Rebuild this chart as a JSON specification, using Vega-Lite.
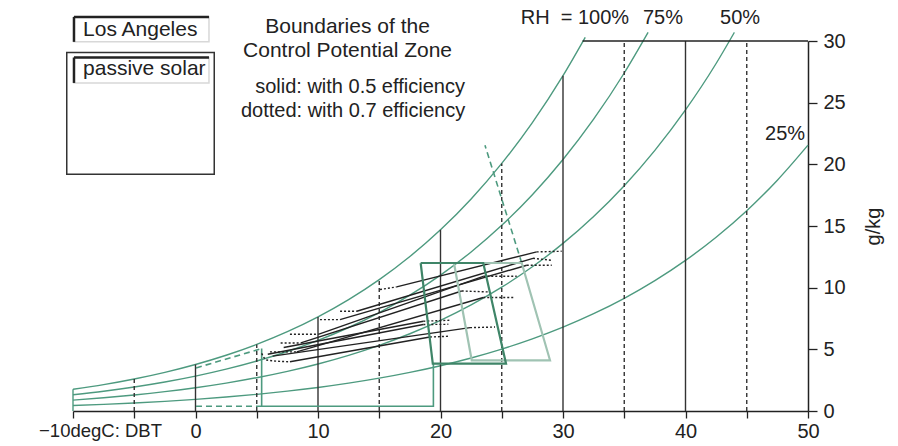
{
  "$schema": "https://vega.github.io/schema/vega-lite/v6.json",
  "width": 735,
  "height": 370,
  "autosize": {"type": "none"},
  "padding": {"left": 73, "top": 41, "right": 90, "bottom": 35},
  "background": "white",
  "config": {"view": {"stroke": null}, "font": "Liberation Sans"},
  "datasets": {
    "curves": [
      {"rh": 100, "t": -10, "w": 1.759}, {"rh": 100, "t": -7.5, "w": 2.141}, {"rh": 100, "t": -5, "w": 2.596}, {"rh": 100, "t": -2.5, "w": 3.135}, {"rh": 100, "t": 0, "w": 3.772}, {"rh": 100, "t": 2.5, "w": 4.522}, {"rh": 100, "t": 5, "w": 5.401}, {"rh": 100, "t": 7.5, "w": 6.43}, {"rh": 100, "t": 10, "w": 7.63}, {"rh": 100, "t": 12.5, "w": 9.027}, {"rh": 100, "t": 15, "w": 10.647}, {"rh": 100, "t": 17.5, "w": 12.524}, {"rh": 100, "t": 20, "w": 14.69}, {"rh": 100, "t": 22.5, "w": 17.193}, {"rh": 100, "t": 25, "w": 20.074}, {"rh": 100, "t": 27.5, "w": 23.383}, {"rh": 100, "t": 30, "w": 27.184}, {"rh": 100, "t": 31.82, "w": 30.3},
      {"rh": 75, "t": -10, "w": 1.319}, {"rh": 75, "t": -7.5, "w": 1.606}, {"rh": 75, "t": -5, "w": 1.947}, {"rh": 75, "t": -2.5, "w": 2.351}, {"rh": 75, "t": 0, "w": 2.829}, {"rh": 75, "t": 2.5, "w": 3.392}, {"rh": 75, "t": 5, "w": 4.051}, {"rh": 75, "t": 7.5, "w": 4.823}, {"rh": 75, "t": 10, "w": 5.723}, {"rh": 75, "t": 12.5, "w": 6.77}, {"rh": 75, "t": 15, "w": 7.985}, {"rh": 75, "t": 17.5, "w": 9.393}, {"rh": 75, "t": 20, "w": 11.018}, {"rh": 75, "t": 22.5, "w": 12.895}, {"rh": 75, "t": 25, "w": 15.056}, {"rh": 75, "t": 27.5, "w": 17.537}, {"rh": 75, "t": 30, "w": 20.388}, {"rh": 75, "t": 32.5, "w": 23.659}, {"rh": 75, "t": 35, "w": 27.405}, {"rh": 75, "t": 36.95, "w": 30.7},
      {"rh": 50, "t": -10, "w": 0.88}, {"rh": 50, "t": -7.5, "w": 1.071}, {"rh": 50, "t": -5, "w": 1.298}, {"rh": 50, "t": -2.5, "w": 1.568}, {"rh": 50, "t": 0, "w": 1.886}, {"rh": 50, "t": 2.5, "w": 2.261}, {"rh": 50, "t": 5, "w": 2.701}, {"rh": 50, "t": 7.5, "w": 3.215}, {"rh": 50, "t": 10, "w": 3.815}, {"rh": 50, "t": 12.5, "w": 4.514}, {"rh": 50, "t": 15, "w": 5.324}, {"rh": 50, "t": 17.5, "w": 6.262}, {"rh": 50, "t": 20, "w": 7.345}, {"rh": 50, "t": 22.5, "w": 8.597}, {"rh": 50, "t": 25, "w": 10.037}, {"rh": 50, "t": 27.5, "w": 11.692}, {"rh": 50, "t": 30, "w": 13.592}, {"rh": 50, "t": 32.5, "w": 15.773}, {"rh": 50, "t": 35, "w": 18.27}, {"rh": 50, "t": 37.5, "w": 21.135}, {"rh": 50, "t": 40, "w": 24.415}, {"rh": 50, "t": 42.5, "w": 28.175}, {"rh": 50, "t": 43.99, "w": 30.7},
      {"rh": 25, "t": -10, "w": 0.44}, {"rh": 25, "t": -7.5, "w": 0.535}, {"rh": 25, "t": -5, "w": 0.649}, {"rh": 25, "t": -2.5, "w": 0.784}, {"rh": 25, "t": 0, "w": 0.943}, {"rh": 25, "t": 2.5, "w": 1.131}, {"rh": 25, "t": 5, "w": 1.35}, {"rh": 25, "t": 7.5, "w": 1.608}, {"rh": 25, "t": 10, "w": 1.908}, {"rh": 25, "t": 12.5, "w": 2.257}, {"rh": 25, "t": 15, "w": 2.662}, {"rh": 25, "t": 17.5, "w": 3.131}, {"rh": 25, "t": 20, "w": 3.673}, {"rh": 25, "t": 22.5, "w": 4.298}, {"rh": 25, "t": 25, "w": 5.019}, {"rh": 25, "t": 27.5, "w": 5.846}, {"rh": 25, "t": 30, "w": 6.796}, {"rh": 25, "t": 32.5, "w": 7.886}, {"rh": 25, "t": 35, "w": 9.135}, {"rh": 25, "t": 37.5, "w": 10.568}, {"rh": 25, "t": 40, "w": 12.208}, {"rh": 25, "t": 42.5, "w": 14.088}, {"rh": 25, "t": 45, "w": 16.24}, {"rh": 25, "t": 47.5, "w": 18.715}, {"rh": 25, "t": 50, "w": 21.555}
    ],
    "vlines": [
      {"t": -10, "w": 0, "top": 1.759, "kind": "edge"},
      {"t": -5, "w": 0, "top": 2.596, "kind": "dashed"},
      {"t": 0, "w": 0, "top": 3.772, "kind": "solid"},
      {"t": 5, "w": 0, "top": 5.401, "kind": "dashed"},
      {"t": 10, "w": 0, "top": 7.63, "kind": "solid"},
      {"t": 15, "w": 0, "top": 10.647, "kind": "dashed"},
      {"t": 20, "w": 0, "top": 14.69, "kind": "solid"},
      {"t": 25, "w": 0, "top": 20.074, "kind": "dashed"},
      {"t": 30, "w": 0, "top": 27.184, "kind": "solid"},
      {"t": 35, "w": 0, "top": 30, "kind": "dashed"},
      {"t": 40, "w": 0, "top": 30, "kind": "solid"},
      {"t": 45, "w": 0, "top": 30, "kind": "dashed"}
    ],
    "topline": [{"t": 31.6, "t2": 50, "w": 30}],
    "zones": [
      {"zone": "comfort05", "i": 1, "t": 18.38, "w": 12.0}, {"zone": "comfort05", "i": 2, "t": 23.49, "w": 12.0}, {"zone": "comfort05", "i": 3, "t": 25.35, "w": 3.84}, {"zone": "comfort05", "i": 4, "t": 19.37, "w": 3.84}, {"zone": "comfort05", "i": 5, "t": 18.38, "w": 12.0},
      {"zone": "comfort07", "i": 1, "t": 21.1, "w": 12.0}, {"zone": "comfort07", "i": 2, "t": 26.63, "w": 12.0}, {"zone": "comfort07", "i": 3, "t": 28.94, "w": 4.11}, {"zone": "comfort07", "i": 4, "t": 22.55, "w": 4.11}, {"zone": "comfort07", "i": 5, "t": 21.1, "w": 12.0},
      {"zone": "passive05", "i": 1, "t": 5.4, "w": 5.06}, {"zone": "passive05", "i": 2, "t": 5.4, "w": 0.38}, {"zone": "passive05", "i": 3, "t": 19.42, "w": 0.38}, {"zone": "passive05", "i": 4, "t": 19.42, "w": 3.84},
      {"zone": "passive07top", "i": 1, "t": 0.04, "w": 3.49}, {"zone": "passive07top", "i": 2, "t": 5.4, "w": 5.06},
      {"zone": "passive07bottom", "i": 1, "t": 0.04, "w": 0.38}, {"zone": "passive07bottom", "i": 2, "t": 5.4, "w": 0.38},
      {"zone": "evap07", "i": 1, "t": 26.63, "w": 12.0}, {"zone": "evap07", "i": 2, "t": 23.63, "w": 21.55}
    ],
    "months": [
      {"seg": "1a", "kind": "dotted", "i": 1, "t": 15.06, "w": 9.85}, {"seg": "1a", "kind": "dotted", "i": 2, "t": 16.42, "w": 10.06},
      {"seg": "1b", "kind": "solid", "i": 1, "t": 16.42, "w": 10.06}, {"seg": "1b", "kind": "solid", "i": 2, "t": 27.85, "w": 12.9},
      {"seg": "1c", "kind": "dotted", "i": 1, "t": 27.85, "w": 12.9}, {"seg": "1c", "kind": "dotted", "i": 2, "t": 29.89, "w": 12.95},
      {"seg": "2a", "kind": "dotted", "i": 1, "t": 11.8, "w": 8.09}, {"seg": "2a", "kind": "dotted", "i": 2, "t": 13.16, "w": 8.09},
      {"seg": "2b", "kind": "solid", "i": 1, "t": 13.16, "w": 8.09}, {"seg": "2b", "kind": "solid", "i": 2, "t": 27.55, "w": 12.38},
      {"seg": "2c", "kind": "dotted", "i": 1, "t": 27.55, "w": 12.38}, {"seg": "2c", "kind": "dotted", "i": 2, "t": 29.08, "w": 12.22},
      {"seg": "3a", "kind": "dotted", "i": 1, "t": 10.16, "w": 7.41}, {"seg": "3a", "kind": "dotted", "i": 2, "t": 11.8, "w": 7.41},
      {"seg": "3b", "kind": "solid", "i": 1, "t": 11.8, "w": 7.41}, {"seg": "3b", "kind": "solid", "i": 2, "t": 27.04, "w": 11.82},
      {"seg": "3c", "kind": "dotted", "i": 1, "t": 27.04, "w": 11.82}, {"seg": "3c", "kind": "dotted", "i": 2, "t": 29.08, "w": 11.82},
      {"seg": "4a", "kind": "dotted", "i": 1, "t": 7.71, "w": 6.22}, {"seg": "4a", "kind": "dotted", "i": 2, "t": 10.02, "w": 6.22},
      {"seg": "4b", "kind": "solid", "i": 1, "t": 10.02, "w": 6.22}, {"seg": "4b", "kind": "solid", "i": 2, "t": 23.49, "w": 10.92},
      {"seg": "4c", "kind": "dotted", "i": 1, "t": 23.49, "w": 10.92}, {"seg": "4c", "kind": "dotted", "i": 2, "t": 26.22, "w": 10.92},
      {"seg": "5a", "kind": "dotted", "i": 1, "t": 6.95, "w": 5.51}, {"seg": "5a", "kind": "dotted", "i": 2, "t": 8.6, "w": 5.52},
      {"seg": "5b", "kind": "solid", "i": 1, "t": 8.6, "w": 5.52}, {"seg": "5b", "kind": "solid", "i": 2, "t": 21.73, "w": 9.73},
      {"seg": "5c", "kind": "dotted", "i": 1, "t": 21.73, "w": 9.73}, {"seg": "5c", "kind": "dotted", "i": 2, "t": 24.04, "w": 9.65},
      {"seg": "6a", "kind": "dotted", "i": 1, "t": 6.08, "w": 4.79}, {"seg": "6a", "kind": "dotted", "i": 2, "t": 8.26, "w": 4.79},
      {"seg": "6b", "kind": "solid", "i": 1, "t": 8.26, "w": 4.79}, {"seg": "6b", "kind": "solid", "i": 2, "t": 23.49, "w": 9.2},
      {"seg": "6c", "kind": "dotted", "i": 1, "t": 23.49, "w": 9.2}, {"seg": "6c", "kind": "dotted", "i": 2, "t": 26.08, "w": 9.2},
      {"seg": "7a", "kind": "dotted", "i": 1, "t": 5.4, "w": 4.67}, {"seg": "7a", "kind": "dotted", "i": 2, "t": 5.81, "w": 4.13}, {"seg": "7a", "kind": "dotted", "i": 3, "t": 7.71, "w": 3.99},
      {"seg": "7b", "kind": "solid", "i": 1, "t": 7.71, "w": 3.99}, {"seg": "7b", "kind": "solid", "i": 2, "t": 19.14, "w": 6.0},
      {"seg": "7c", "kind": "dotted", "i": 1, "t": 19.14, "w": 6.0}, {"seg": "7c", "kind": "dotted", "i": 2, "t": 20.64, "w": 6.06},
      {"seg": "8b", "kind": "solid", "i": 1, "t": 6.3, "w": 4.45}, {"seg": "8b", "kind": "solid", "i": 2, "t": 22.41, "w": 6.76},
      {"seg": "8c", "kind": "dotted", "i": 1, "t": 22.41, "w": 6.76}, {"seg": "8c", "kind": "dotted", "i": 2, "t": 24.45, "w": 6.81},
      {"seg": "9b", "kind": "solid", "i": 1, "t": 5.9, "w": 4.6}, {"seg": "9b", "kind": "solid", "i": 2, "t": 18.6, "w": 7.01},
      {"seg": "9c", "kind": "dotted", "i": 1, "t": 18.6, "w": 7.01}, {"seg": "9c", "kind": "dotted", "i": 2, "t": 20.64, "w": 7.03},
      {"seg": "10b", "kind": "solid", "i": 1, "t": 7.2, "w": 5.15}, {"seg": "10b", "kind": "solid", "i": 2, "t": 18.6, "w": 7.28},
      {"seg": "10c", "kind": "dotted", "i": 1, "t": 18.6, "w": 7.28}, {"seg": "10c", "kind": "dotted", "i": 2, "t": 20.78, "w": 7.36}
    ],
    "boxes": [
      {"box": "outer", "t": -10.51, "t2": 1.53, "w": 19.2, "w2": 29.07},
      {"box": "label", "t": -9.92, "t2": 1.1, "w": 29.93, "w2": 31.95},
      {"box": "label", "t": -9.92, "t2": 1.1, "w": 26.6, "w2": 28.66}
    ],
    "boxedges": [
      {"t": -9.92, "t2": -9.92, "w": 29.93, "w2": 31.95},
      {"t": -9.92, "t2": 1.1, "w": 31.95, "w2": 31.95},
      {"t": -9.92, "t2": -9.92, "w": 26.6, "w2": 28.66},
      {"t": -9.92, "t2": 1.1, "w": 28.66, "w2": 28.66}
    ],
    "textsTitle": [
      {"label": "Boundaries of the", "t": 12.41, "w": 30.66},
      {"label": "Control Potential Zone", "t": 12.41, "w": 28.71}
    ],
    "textsCenter": [
      {"label": "solid: with 0.5 efficiency", "t": 13.43, "w": 25.79},
      {"label": "dotted: with 0.7 efficiency", "t": 12.86, "w": 23.84}
    ],
    "textsBox": [
      {"label": "Los Angeles", "t": -9.18, "w": 30.39},
      {"label": "passive solar", "t": -9.18, "w": 27.23}
    ],
    "textsLeft": [
      {"label": "RH\u00a0\u00a0=\u00a0100%", "t": 26.55, "w": 31.36},
      {"label": "75%", "t": 36.53, "w": 31.36},
      {"label": "50%", "t": 42.82, "w": 31.36}
    ],
    "textsRight": [
      {"label": "25%", "t": 49.76, "w": 21.96}
    ]
  },
  "encoding": {
    "x": {
      "field": "t", "type": "quantitative",
      "scale": {"domain": [-10, 50], "nice": false, "zero": false},
      "axis": {
        "orient": "bottom", "title": null, "grid": false,
        "values": [-10, -5, 0, 5, 10, 15, 20, 25, 30, 35, 40, 45, 50],
        "labelExpr": "datum.value == -10 ? '\u221210degC: DBT' : (datum.value % 10 == 0 ? datum.label : '')",
        "labelOffset": {"condition": {"test": "datum.value == -10", "value": 27}, "value": 0},
        "labelFontSize": {"condition": {"test": "datum.value == -10", "value": 18.5}, "value": 20},
        "labelColor": "#222", "labelPadding": 3,
        "tickSize": 7, "tickColor": "#222", "domainColor": "#222", "domainWidth": 1.5, "tickWidth": 1.3,
        "labelFlush": false, "labelOverlap": false
      }
    },
    "y": {
      "field": "w", "type": "quantitative",
      "scale": {"domain": [0, 30], "nice": false, "zero": false},
      "axis": {
        "orient": "right", "title": "g/kg", "grid": false,
        "values": [0, 5, 10, 15, 20, 25, 30],
        "labelFontSize": 20, "labelColor": "#222", "labelPadding": 6,
        "tickSize": 9, "tickColor": "#222", "domainColor": "#222", "domainWidth": 1.5, "tickWidth": 1.3,
        "titleFontSize": 20, "titleFontWeight": "normal", "titleColor": "#222", "titleAngle": -90, "titleBaseline": "top", "titlePadding": 18,
        "labelFlush": false, "labelOverlap": false
      }
    }
  },
  "layer": [
    {
      "data": {"name": "curves"},
      "mark": {"type": "line", "interpolate": "monotone", "color": "#4d9a7f", "strokeWidth": 1.4},
      "encoding": {"detail": {"field": "rh"}, "order": {"field": "t", "type": "quantitative"}}
    },
    {
      "data": {"name": "vlines"},
      "transform": [{"filter": "datum.kind == 'solid'"}],
      "mark": {"type": "rule", "color": "#333", "strokeWidth": 1.4},
      "encoding": {"y2": {"field": "top"}}
    },
    {
      "data": {"name": "vlines"},
      "transform": [{"filter": "datum.kind == 'dashed'"}],
      "mark": {"type": "rule", "color": "#333", "strokeWidth": 1.4, "strokeDash": [4, 3]},
      "encoding": {"y2": {"field": "top"}}
    },
    {
      "data": {"name": "vlines"},
      "transform": [{"filter": "datum.kind == 'edge'"}],
      "mark": {"type": "rule", "color": "#4d9a7f", "strokeWidth": 1.4},
      "encoding": {"y2": {"field": "top"}}
    },
    {
      "data": {"name": "topline"},
      "mark": {"type": "rule", "color": "#222", "strokeWidth": 1.5},
      "encoding": {"x2": {"field": "t2"}}
    },
    {
      "data": {"name": "zones"},
      "transform": [{"filter": "datum.zone == 'passive05'"}],
      "mark": {"type": "line", "color": "#4d9a7f", "strokeWidth": 1.6},
      "encoding": {"detail": {"field": "zone"}, "order": {"field": "i"}}
    },
    {
      "data": {"name": "zones"},
      "transform": [{"filter": "datum.zone == 'passive07top' || datum.zone == 'passive07bottom' || datum.zone == 'evap07'"}],
      "mark": {"type": "line", "color": "#4d9a7f", "strokeWidth": 1.6, "strokeDash": [6, 4]},
      "encoding": {"detail": {"field": "zone"}, "order": {"field": "i"}}
    },
    {
      "data": {"name": "months"},
      "transform": [{"filter": "datum.kind == 'solid'"}],
      "mark": {"type": "line", "color": "#222", "strokeWidth": 1.4},
      "encoding": {"detail": {"field": "seg"}, "order": {"field": "i"}}
    },
    {
      "data": {"name": "months"},
      "transform": [{"filter": "datum.kind == 'dotted'"}],
      "mark": {"type": "line", "color": "#222", "strokeWidth": 1.4, "strokeDash": [2, 2], "interpolate": "monotone"},
      "encoding": {"detail": {"field": "seg"}, "order": {"field": "i"}}
    },
    {
      "data": {"name": "zones"},
      "transform": [{"filter": "datum.zone == 'comfort07'"}],
      "mark": {"type": "line", "color": "#a0c3b3", "strokeWidth": 2.2},
      "encoding": {"detail": {"field": "zone"}, "order": {"field": "i"}}
    },
    {
      "data": {"name": "zones"},
      "transform": [{"filter": "datum.zone == 'comfort05'"}],
      "mark": {"type": "line", "color": "#3f8568", "strokeWidth": 2.2},
      "encoding": {"detail": {"field": "zone"}, "order": {"field": "i"}}
    },
    {
      "data": {"name": "boxes"},
      "transform": [{"filter": "datum.box == 'outer'"}],
      "mark": {"type": "rect", "fill": null, "fillOpacity": 0, "stroke": "#333", "strokeWidth": 1.5},
      "encoding": {"x2": {"field": "t2"}, "y2": {"field": "w2"}}
    },
    {
      "data": {"name": "boxes"},
      "transform": [{"filter": "datum.box == 'label'"}],
      "mark": {"type": "rect", "fill": "white", "stroke": "#d8d8d8", "strokeWidth": 1.5},
      "encoding": {"x2": {"field": "t2"}, "y2": {"field": "w2"}}
    },
    {
      "data": {"name": "boxedges"},
      "mark": {"type": "rule", "color": "#222", "strokeWidth": 2.5},
      "encoding": {"x2": {"field": "t2"}, "y2": {"field": "w2"}}
    },
    {
      "data": {"name": "textsTitle"},
      "mark": {"type": "text", "align": "center", "baseline": "alphabetic", "fontSize": 21, "color": "#222"},
      "encoding": {"text": {"field": "label"}}
    },
    {
      "data": {"name": "textsCenter"},
      "mark": {"type": "text", "align": "center", "baseline": "alphabetic", "fontSize": 20, "color": "#222"},
      "encoding": {"text": {"field": "label"}}
    },
    {
      "data": {"name": "textsBox"},
      "mark": {"type": "text", "align": "left", "baseline": "alphabetic", "fontSize": 21, "color": "#222"},
      "encoding": {"text": {"field": "label"}}
    },
    {
      "data": {"name": "textsLeft"},
      "mark": {"type": "text", "align": "left", "baseline": "alphabetic", "fontSize": 20, "color": "#222"},
      "encoding": {"text": {"field": "label"}}
    },
    {
      "data": {"name": "textsRight"},
      "mark": {"type": "text", "align": "right", "baseline": "alphabetic", "fontSize": 20, "color": "#222"},
      "encoding": {"text": {"field": "label"}}
    }
  ]
}
